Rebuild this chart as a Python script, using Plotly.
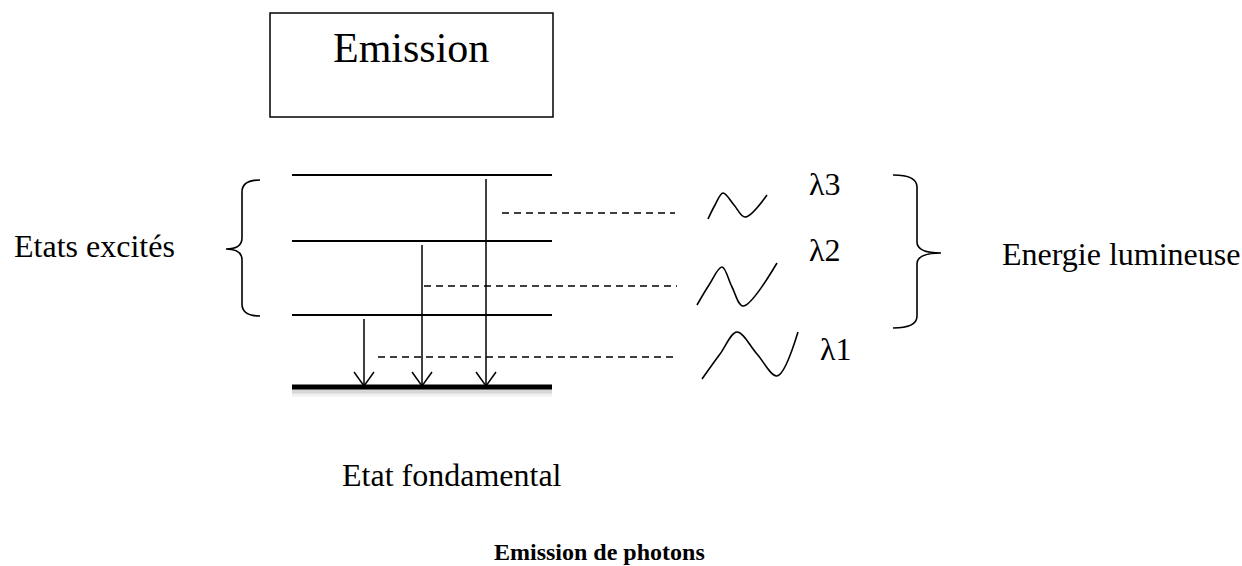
import plotly.graph_objects as go

W, H = 1242, 566

# ---- diagram content ----
title_text = "Emission"
caption_text = "Emission de photons"
left_label = "Etats excités"
right_label = "Energie lumineuse"
ground_label = "Etat fondamental"

# energy levels (pixel space)
excited_levels_y = [175, 241, 315]
ground_level_y = 387
levels_x = [292, 552]

# transitions (downward arrows) : x position and start level
transition_x = [364, 422, 486]
transition_y_start = [319, 245, 179]

# dashed photon paths
dash_y = [357, 286, 213]
dash_x0 = [378, 424, 502]
dash_x1 = [676, 677, 675]

# photon waves (key points: start, crest, trough, end)
wave_labels = ["λ1", "λ2", "λ3"]
wave_x = [[702, 720, 737, 757, 777, 798],
          [697, 709, 722, 732, 743, 777],
          [708, 715, 723, 734, 745, 767]]
wave_y = [[379, 354, 332, 354, 376, 332],
          [305, 285, 267, 287, 306, 263],
          [219, 205, 193, 205, 217, 195]]
label_x = [818, 807, 807]
label_y = [349, 250, 184]

SERIF = "Times New Roman, Liberation Serif, serif"

fig = go.Figure()

# ground shadow
for off, alpha, wdt in [(5, 0.06, 9), (4, 0.10, 5)]:
    fig.add_trace(go.Scatter(x=levels_x, y=[ground_level_y + off] * 2, mode="lines",
                             line=dict(color=f"rgba(0,0,0,{alpha})", width=wdt),
                             hoverinfo="skip", showlegend=False))

# excited levels
for yv in excited_levels_y:
    fig.add_trace(go.Scatter(x=levels_x, y=[yv, yv], mode="lines",
                             line=dict(color="black", width=2),
                             hoverinfo="skip", showlegend=False))
# ground level
fig.add_trace(go.Scatter(x=levels_x, y=[ground_level_y] * 2, mode="lines",
                         line=dict(color="black", width=5),
                         hoverinfo="skip", showlegend=False))

# transitions with open V arrowheads
for xv, ys in zip(transition_x, transition_y_start):
    fig.add_trace(go.Scatter(x=[xv, xv], y=[ys, ground_level_y - 1], mode="lines",
                             line=dict(color="black", width=1.5),
                             hoverinfo="skip", showlegend=False))
    fig.add_trace(go.Scatter(x=[xv - 10, xv, xv + 10],
                             y=[ground_level_y - 15, ground_level_y - 1, ground_level_y - 15],
                             mode="lines", line=dict(color="black", width=1.5),
                             hoverinfo="skip", showlegend=False))

# dashed lines
for yv, a, b in zip(dash_y, dash_x0, dash_x1):
    fig.add_trace(go.Scatter(x=[a, b], y=[yv, yv], mode="lines",
                             line=dict(color="black", width=1.3, dash="7px,5px"),
                             hoverinfo="skip", showlegend=False))

# waves
for xs, ys in zip(wave_x, wave_y):
    fig.add_trace(go.Scatter(x=xs, y=ys, mode="lines",
                             line=dict(color="black", width=1.6, shape="spline", smoothing=1.0),
                             hoverinfo="skip", showlegend=False))

# lambda labels
for t, xv, yv in zip(wave_labels, label_x, label_y):
    fig.add_annotation(x=xv, y=yv, text=t, showarrow=False, xanchor="left", yanchor="middle",
                       font=dict(family=SERIF, size=32, color="black"))

shapes = [
    dict(type="rect", x0=270, y0=13, x1=553, y1=117, line=dict(color="black", width=1.5)),
    dict(type="path",
         path="M 260,180 Q 242,180 242,192 L 242,238 Q 242,249 226,249 Q 242,249 242,260 "
              "L 242,304 Q 242,316 260,316",
         line=dict(color="black", width=1.6)),
    dict(type="path",
         path="M 893,175 Q 917,175 917,187 L 917,242 Q 917,253 941,253 Q 917,253 917,264 "
              "L 917,316 Q 917,328 893,328",
         line=dict(color="black", width=1.6)),
]

texts = [
    (title_text, 411, 48, "center", 42, False),
    (left_label, 12, 246, "left", 32, False),
    (right_label, 1000, 254, "left", 32, False),
    (ground_label, 340, 475, "left", 32, False),
    (caption_text, 492, 552, "left", 24, True),
]
for t, xv, yv, xa, fs, bold in texts:
    fig.add_annotation(x=xv, y=yv, text=f"<b>{t}</b>" if bold else t, showarrow=False,
                       xanchor=xa, yanchor="middle",
                       font=dict(family=SERIF, size=fs, color="black"))

fig.update_layout(
    width=W, height=H, margin=dict(l=0, r=0, t=0, b=0),
    paper_bgcolor="white", plot_bgcolor="white", shapes=shapes,
    xaxis=dict(range=[0, W], visible=False, fixedrange=True),
    yaxis=dict(range=[H, 0], visible=False, fixedrange=True),
    showlegend=False,
)
fig.write_html("out.html", config={"displayModeBar": False},
               post_script="document.body.style.margin='0px';document.body.style.overflow='hidden';")
